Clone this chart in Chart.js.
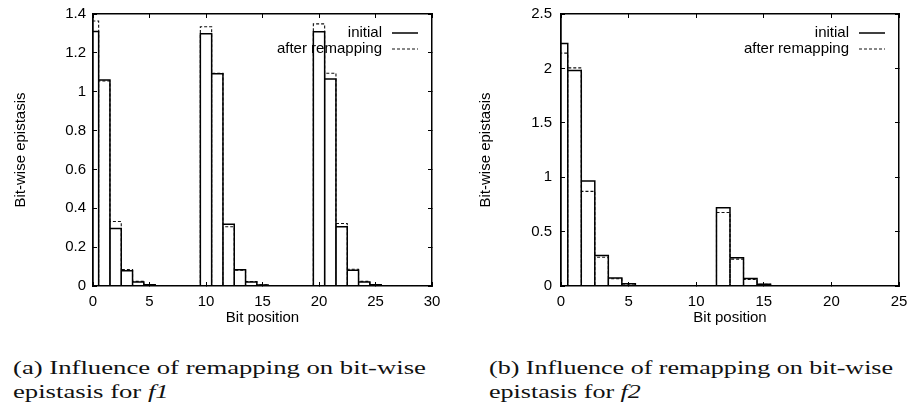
<!DOCTYPE html>
<html>
<head>
<meta charset="utf-8">
<script src="https://cdn.jsdelivr.net/npm/chart.js@4.4.0/dist/chart.umd.min.js"></script>
<style>
    body { margin: 0; background: #fff; width: 908px; height: 415px; position: relative; overflow: hidden; }
    canvas { position: absolute; top: 0; }
    #grafico-a { left: 0; }
    #grafico-b { left: 454px; }
    .legenda { position: absolute; top: 356px; font-family: 'Liberation Serif', serif; font-size: 19px; line-height: 24px; white-space: nowrap; transform-origin: 0 0; color: #111; }
    #legenda-a { left: 13px; }
    #legenda-b { left: 489px; }
</style>
</head>
<body>
<canvas id="grafico-a" width="454" height="330"></canvas>
<canvas id="grafico-b" width="454" height="330"></canvas>
<div class="legenda" id="legenda-a"><span class="linha">(a) Influence of remapping on bit-wise</span><br>epistasis for <i>f1</i></div>
<div class="legenda" id="legenda-b"><span class="linha">(b) Influence of remapping on bit-wise</span><br>epistasis for <i>f2</i></div>
<script>
// Dados do gráfico (a): f1, 30 bits
const bitsA = [0, 1, 2, 3, 4, 5, 6, 7, 8, 9, 10, 11, 12, 13, 14, 15, 16, 17, 18, 19, 20, 21, 22, 23, 24, 25, 26, 27, 28, 29];
const inicialA = [1.31, 1.06, 0.296, 0.078, 0.02, 0.006, 0, 0, 0, 0, 1.298, 1.093, 0.318, 0.084, 0.021, 0.005, 0, 0, 0, 0, 1.309, 1.065, 0.305, 0.081, 0.02, 0.006, 0, 0, 0, 0];
const remapA = [1.364, 1.055, 0.332, 0.085, 0.024, 0.007, 0, 0, 0, 0, 1.334, 1.095, 0.305, 0.081, 0.023, 0.006, 0, 0, 0, 0, 1.349, 1.095, 0.322, 0.086, 0.024, 0.007, 0, 0, 0, 0];
const xTicksA = [0, 5, 10, 15, 20, 25, 30];
const yTicksA = [0, 0.2, 0.4, 0.6, 0.8, 1, 1.2, 1.4];

// Dados do gráfico (b): f2, 24 bits
const bitsB = [0, 1, 2, 3, 4, 5, 6, 7, 8, 9, 10, 11, 12, 13, 14, 15, 16, 17, 18, 19, 20, 21, 22, 23];
const inicialB = [2.23, 1.98, 0.966, 0.28, 0.074, 0.02, 0, 0, 0, 0, 0, 0, 0.72, 0.26, 0.068, 0.016, 0, 0, 0, 0, 0, 0, 0, 0];
const remapB = [2.14, 2.005, 0.87, 0.264, 0.066, 0.018, 0, 0, 0, 0, 0, 0, 0.676, 0.247, 0.06, 0.015, 0, 0, 0, 0, 0, 0, 0, 0];
const xTicksB = [0, 5, 10, 15, 20, 25];
const yTicksB = [0, 0.5, 1, 1.5, 2, 2.5];

const fonte = { family: "'Liberation Sans', Arial, sans-serif", size: 15 };
Chart.defaults.color = '#000';
Chart.defaults.font = fonte;

// Contorno das caixas (largura 1 centrada em cada bit), como "with boxes" do gnuplot
function contornoBarras(bits, valores) {
    const pontos = [];
    bits.forEach((b, i) => {
        pontos.push({ x: b - 0.5, y: 0 }, { x: b - 0.5, y: valores[i] }, { x: b + 0.5, y: valores[i] }, { x: b + 0.5, y: 0 });
    });
    return pontos;
}

// Legenda dentro da área do gráfico: texto alinhado à direita e amostra de linha depois
const legendaInterna = {
    id: 'legendaInterna',
    afterDatasetsDraw(chart) {
        const { ctx, chartArea } = chart;
        ctx.save();
        ctx.font = "15px 'Liberation Sans', Arial, sans-serif";
        ctx.fillStyle = '#000';
        ctx.textAlign = 'right';
        ctx.textBaseline = 'middle';
        chart.data.datasets.forEach((ds, i) => {
            const y = chartArea.top + 19 + i * 16;
            ctx.fillText(ds.label, chartArea.right - 50, y);
            ctx.strokeStyle = ds.borderColor;
            ctx.lineWidth = ds.borderWidth;
            ctx.setLineDash(ds.borderDash || []);
            ctx.beginPath();
            ctx.moveTo(chartArea.right - 40, y);
            ctx.lineTo(chartArea.right - 14, y);
            ctx.stroke();
        });
        ctx.restore();
    }
};

function eixo(posicao, min, max, ticks, extra) {
    return Object.assign({
        type: 'linear',
        position: posicao,
        min: min,
        max: max,
        afterBuildTicks: s => { s.ticks = ticks.map(v => ({ value: v })); },
        grid: { drawOnChartArea: false, drawTicks: true, tickLength: -4, color: '#000', lineWidth: 1 },
        border: { display: true, color: '#000', width: 1.5 },
        ticks: { display: false }
    }, extra);
}

function criarGrafico(canvasId, bits, inicial, remap, xTicks, yTicks, xMax, yMax, esquerda, direita, recuoY, padTituloY) {
    const ctx = document.getElementById(canvasId).getContext('2d');
    return new Chart(ctx, {
        type: 'line',
        data: {
            datasets: [{
                label: 'initial',
                data: contornoBarras(bits, inicial),
                borderColor: '#000',
                borderWidth: 1.5,
                pointRadius: 0,
                fill: false
            }, {
                label: 'after remapping',
                data: contornoBarras(bits, remap),
                borderColor: '#111',
                borderWidth: 1.1,
                borderDash: [3, 2],
                pointRadius: 0,
                fill: false
            }]
        },
        options: {
            responsive: false,
            animation: false,
            devicePixelRatio: 1,
            layout: { padding: { left: 0, top: 14, right: 454 - direita, bottom: 0 } },
            plugins: { legend: { display: false }, tooltip: { enabled: false } },
            elements: { line: { tension: 0 } },
            scales: {
                x: eixo('bottom', 0, xMax, xTicks, {
                    afterFit: s => { s.height = 44; },
                    ticks: { display: true, padding: 0, maxRotation: 0, autoSkip: false, font: { size: 15, lineHeight: 2.6 }, callback: v => String(v) },
                    title: { display: true, text: 'Bit position', padding: { top: 0, bottom: 3 } }
                }),
                x2: eixo('top', 0, xMax, xTicks, { afterFit: s => { s.height = 0; } }),
                // eixo com os rótulos (marca invisível só para afastar o texto)
                y: eixo('left', 0, yMax, yTicks, {
                    weight: 0,
                    afterFit: s => { s.width = esquerda; },
                    grid: { drawOnChartArea: false, drawTicks: true, tickLength: recuoY, tickColor: 'rgba(0,0,0,0)', color: '#000' },
                    ticks: { display: true, padding: 0, autoSkip: false, callback: v => String(v) },
                    title: { display: true, text: 'Bit-wise epistasis', padding: { top: padTituloY, bottom: 0 } }
                }),
                // marcas para dentro do lado esquerdo
                yi: eixo('left', 0, yMax, yTicks, { weight: -1, afterFit: s => { s.width = 0; } }),
                y2: eixo('right', 0, yMax, yTicks, { afterFit: s => { s.width = 0; } })
            }
        },
        plugins: [legendaInterna]
    });
}

criarGrafico('grafico-a', bitsA, inicialA, remapA, xTicksA, yTicksA, 30, 1.4, 93, 432, 7, 12);
criarGrafico('grafico-b', bitsB, inicialB, remapB, xTicksB, yTicksB, 25, 2.5, 107, 445, 9, 23);

// Ajusta a largura das legendas ao texto original (fonte serifada larga)
[['legenda-a', 413], ['legenda-b', 404]].forEach(([id, alvo]) => {
    const div = document.getElementById(id);
    const largura = div.querySelector('.linha').getBoundingClientRect().width;
    div.style.transform = 'scaleX(' + (alvo / largura).toFixed(3) + ')';
});
</script>
</body>
</html>
